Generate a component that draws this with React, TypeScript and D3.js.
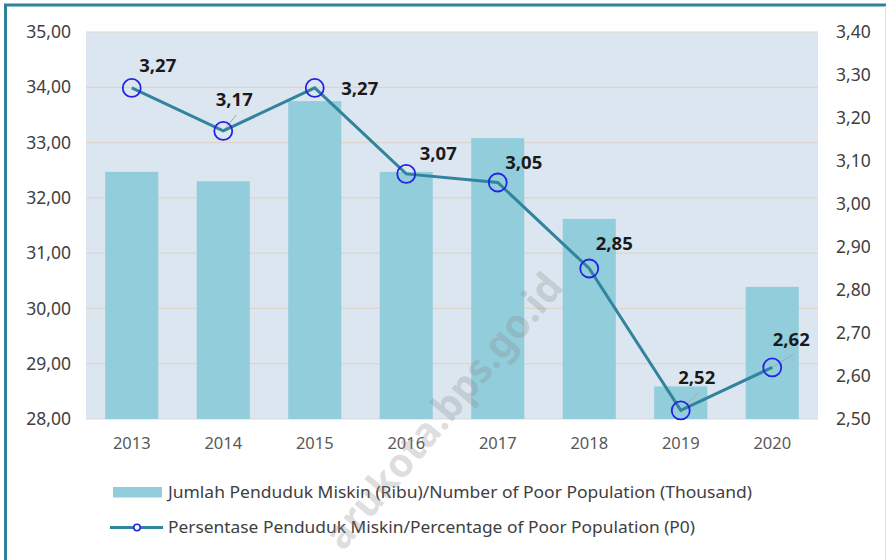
import React, { useEffect, useRef } from 'react';
import * as d3 from 'd3';

const years = ['2013', '2014', '2015', '2016', '2017', '2018', '2019', '2020'];
// jumlah penduduk miskin (ribu)
const poorCount = [32.47, 32.3, 33.75, 32.47, 33.08, 31.62, 28.59, 30.39];
// persentase penduduk miskin (P0)
const poorPct = [3.27, 3.17, 3.27, 3.07, 3.05, 2.85, 2.52, 2.62];
const leftTicks = [28, 29, 30, 31, 32, 33, 34, 35];
const rightTicks = [2.5, 2.6, 2.7, 2.8, 2.9, 3.0, 3.1, 3.2, 3.3, 3.4];

const barLegend = 'Jumlah Penduduk Miskin (Ribu)/Number of Poor Population (Thousand)';
const lineLegend = 'Persentase Penduduk Miskin/Percentage of Poor Population (P0)';
const watermark = 'arukota.bps.go.id';

// label placement relative to each point (dx, dy, leader line?)
const labelOffsets: [number, number, boolean][] = [
	[26, -23, false],
	[11, -32, true],
	[45, 0, false],
	[32, -21, false],
	[26, -21, false],
	[25, -26, false],
	[16, -34, true],
	[19, -29, true]
];

const width = 886;
const height = 560;
const margin = { top: 32, right: 68, bottom: 141, left: 86 };

const idLocale = d3.formatLocale({
	decimal: ',',
	thousands: '.',
	grouping: [3],
	currency: ['', '']
});
const fmt2 = idLocale.format('.2f');

const font = '"Noto Sans", "Open Sans", sans-serif';

export default function App() {
	const leftRef = useRef<SVGGElement>(null);
	const rightRef = useRef<SVGGElement>(null);
	const xRef = useRef<SVGGElement>(null);

	const x = d3
		.scaleBand()
		.domain(years)
		.range([margin.left, width - margin.right])
		.paddingInner(0.42)
		.paddingOuter(0.21);

	const yL = d3
		.scaleLinear()
		.domain([28, 35])
		.range([height - margin.bottom, margin.top]);

	const yR = d3
		.scaleLinear()
		.domain([2.5, 3.4])
		.range([height - margin.bottom, margin.top]);

	const cx = (d: string) => (x(d) as number) + x.bandwidth() / 2;

	const line = d3
		.line<number>()
		.x((d, i) => cx(years[i]))
		.y(d => yR(d));

	useEffect(() => {
		const left = d3.select(leftRef.current);
		left.call(
			d3.axisLeft(yL).tickValues(leftTicks).tickSize(0).tickPadding(15).tickFormat(d => fmt2(d as number))
		);
		left.select('.domain').remove();
		left
			.selectAll('text')
			.attr('font-family', font)
			.attr('font-size', 17.5)
			.attr('fill', '#404040');

		const right = d3.select(rightRef.current);
		right.call(
			d3.axisRight(yR).tickValues(rightTicks).tickSize(0).tickPadding(18).tickFormat(d => fmt2(d as number))
		);
		right.select('.domain').remove();
		right
			.selectAll('text')
			.attr('font-family', font)
			.attr('font-size', 17.5)
			.attr('fill', '#404040');

		const xa = d3.select(xRef.current);
		xa.call(d3.axisBottom(x).tickSize(0).tickPadding(18));
		xa.select('.domain').remove();
		xa.selectAll('text')
			.attr('font-family', font)
			.attr('font-size', 16.5)
			.attr('fill', '#595959');
	}, []);

	const plotW = width - margin.left - margin.right;
	const plotH = height - margin.top - margin.bottom;

	return (
		<svg
			width={width}
			height={height}
			style={{ position: 'absolute', left: 0, top: 0, background: '#fff' }}
		>
			{/* frame */}
			<line x1={5.5} y1={5} x2={5.5} y2={height} stroke="#2e8399" strokeWidth={3} />
			<line x1={4} y1={5} x2={width} y2={5} stroke="#2e8399" strokeWidth={3} />
			<line x1={885.5} y1={6} x2={885.5} y2={height} stroke="#d5e8ee" strokeWidth={1} />

			{/* plot area */}
			<rect x={margin.left} y={margin.top} width={plotW} height={plotH} fill="#dce6f1" />
			{leftTicks.map(t => (
				<line
					key={t}
					x1={margin.left}
					x2={width - margin.right}
					y1={yL(t)}
					y2={yL(t)}
					stroke={t === 28 ? '#d9d9d9' : '#ddd5cb'}
					strokeWidth={1.2}
				/>
			))}

			{years.map((yr, i) => (
				<rect
					key={yr}
					x={x(yr)}
					y={yL(poorCount[i])}
					width={x.bandwidth()}
					height={yL(28) - yL(poorCount[i])}
					fill="#92cddc"
				/>
			))}

			<g ref={leftRef} transform={`translate(${margin.left}, 0)`} />
			<g ref={rightRef} transform={`translate(${width - margin.right}, 0)`} />
			<g ref={xRef} transform={`translate(0, ${height - margin.bottom})`} />

			{/* leader lines */}
			{poorPct.map((v, i) =>
				labelOffsets[i][2] ? (
					<line
						key={'ld' + i}
						x1={cx(years[i])}
						y1={yR(v)}
						x2={cx(years[i]) + labelOffsets[i][0] + 2}
						y2={yR(v) + labelOffsets[i][1] + 16}
						stroke="#a6a6a6"
						strokeWidth={1}
					/>
				) : null
			)}

			<path d={line(poorPct) || ''} fill="none" stroke="#31849b" strokeWidth={3} />
			{poorPct.map((v, i) => (
				<circle
					key={'pt' + i}
					cx={cx(years[i])}
					cy={yR(v)}
					r={9}
					fill="none"
					stroke="#2323e6"
					strokeWidth={1.8}
				/>
			))}
			{poorPct.map((v, i) => (
				<text
					key={'lb' + i}
					x={cx(years[i]) + labelOffsets[i][0]}
					y={yR(v) + labelOffsets[i][1]}
					textAnchor="middle"
					dominantBaseline="central"
					fontFamily={font}
					fontWeight="bold"
					fontSize={18.5}
					fill="#1a1a1a"
				>
					{fmt2(v)}
				</text>
			))}

			{/* legend */}
			<rect x={113} y={487} width={49} height={10.5} fill="#92cddc" />
			<text
				x={168}
				y={492}
				dominantBaseline="central"
				fontFamily={font}
				fontSize={16}
				fill="#404040"
				textLength={584}
				lengthAdjust="spacingAndGlyphs"
			>
				{barLegend}
			</text>
			<line x1={110} x2={163} y1={527.5} y2={527.5} stroke="#31849b" strokeWidth={3} />
			<circle cx={137} cy={527.5} r={3.2} fill="#fff" stroke="#2323e6" strokeWidth={1.6} />
			<text
				x={168}
				y={527}
				dominantBaseline="central"
				fontFamily={font}
				fontSize={16}
				fill="#404040"
				textLength={527}
				lengthAdjust="spacingAndGlyphs"
			>
				{lineLegend}
			</text>

			{/* watermark */}
			<text
				x={0}
				y={0}
				transform="translate(442, 410) rotate(-50)"
				textAnchor="middle"
				dominantBaseline="central"
				fontFamily={font}
				fontWeight="bold"
				fontSize={40}
				fill="#8a8a8a"
				fillOpacity={0.3}
				textLength={345}
				lengthAdjust="spacingAndGlyphs"
			>
				{watermark}
			</text>
		</svg>
	);
}
